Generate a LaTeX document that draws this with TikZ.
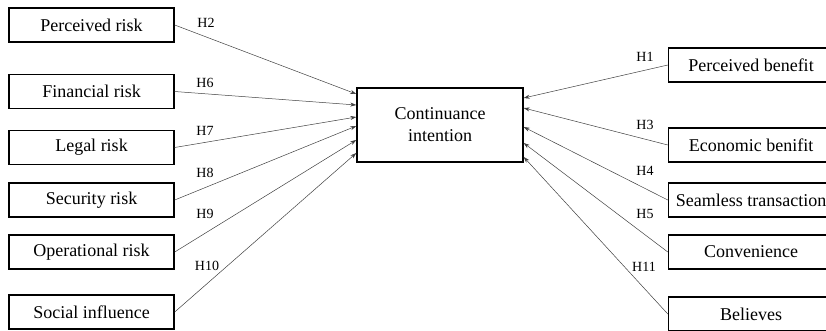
\documentclass[tikz,border=0pt]{standalone}
\usepackage{fontspec}
\setmainfont{Liberation Serif}
\usetikzlibrary{arrows.meta,positioning,calc}

\begin{document}
\begin{tikzpicture}[x=1pt, y=-1pt,
  box/.style={draw, line width=1.4pt, minimum width=165pt, minimum height=34pt, inner sep=2pt, font=\fontsize{18}{22}\selectfont},
  hyp/.style={-{Stealth[length=6pt,width=4pt]}, line width=0.5pt, draw=black!75},
  hlab/.style={inner sep=0pt, font=\fontsize{14}{16}\selectfont}]
\clip (0,0) rectangle (826,330);
\node[box, minimum width=166pt, minimum height=74pt, align=center] (ci) at (440,125) {Continuance\\intention};
\foreach \n/\y/\t in {pr/25/Perceived risk, fr/91.5/Financial risk, lr/147.5/Legal risk, sr/200/Security risk, or/252/Operational risk, si/312/Social influence}
  { \node[box] (\n) at (91.5,\y) {\t}; }
\foreach \n/\y/\t in {pb/65/Perceived benefit, eb/145/Economic benifit, st/200/Seamless transaction, cv/252/Convenience, bl/314/Believes}
  { \node[box] (\n) at (751,\y) {\t}; }
\foreach \n/\y/\h/\lx/\ly in {pr/94/H2/206/23, fr/105/H6/205/83, lr/117/H7/205/131, sr/126/H8/205/173, or/140/H9/205/214, si/153/H10/207/266}
  { \coordinate (\n-in) at (ci.west |- 0,\y); \draw[hyp] (\n.east) -- (\n-in); \node[hlab] (\n-lab) at (\lx,\ly) {\h}; }
\foreach \n/\y/\h/\lx/\ly in {pb/98/H1/645/57, eb/108/H3/645/125, st/127/H4/645/171, cv/143/H5/645/214, bl/157/H11/644/267}
  { \coordinate (\n-in) at (ci.east |- 0,\y); \draw[hyp] (\n.west) -- (\n-in); \node[hlab] (\n-lab) at (\lx,\ly) {\h}; }
\end{tikzpicture}
\end{document}
